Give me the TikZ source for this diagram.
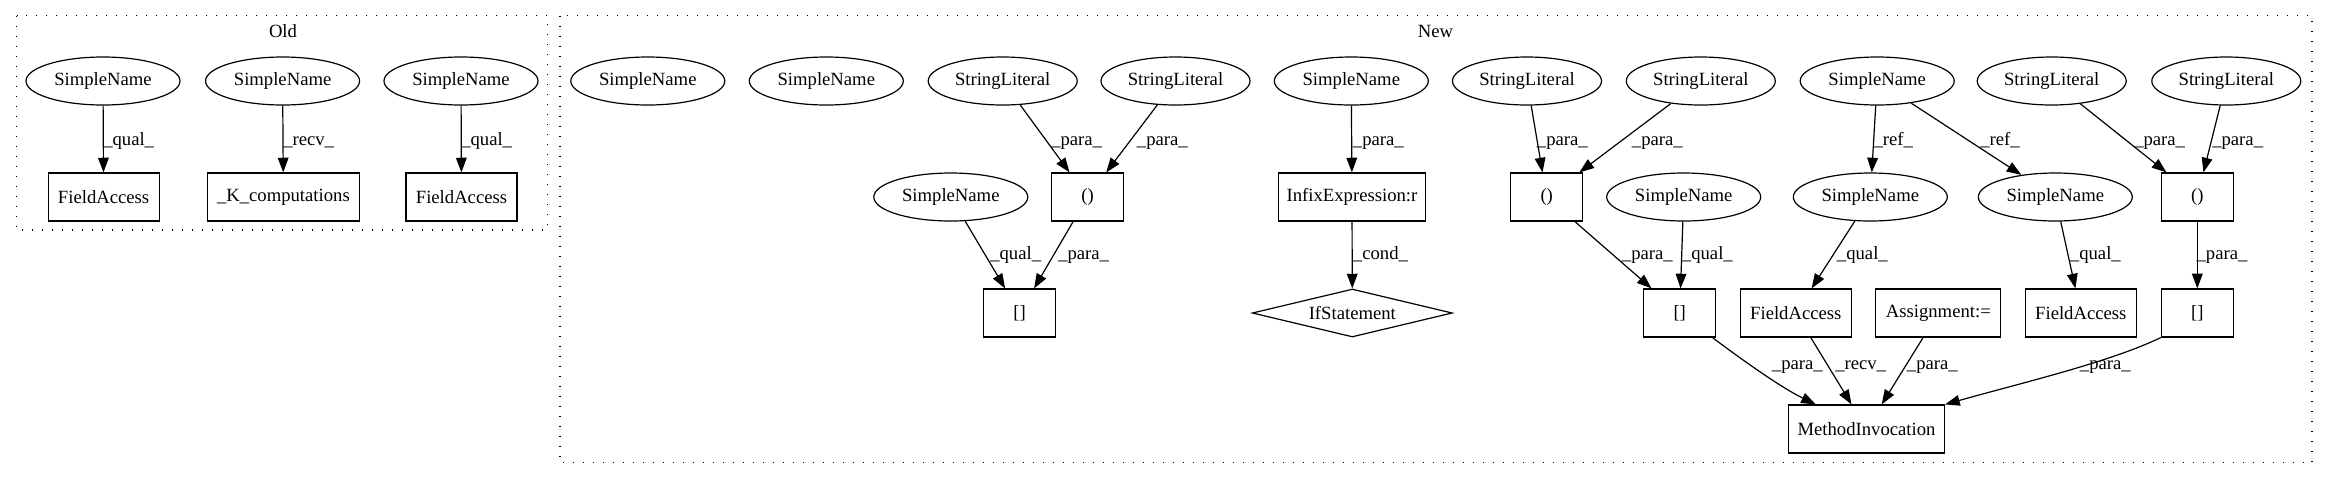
\documentclass[tikz,border=0pt]{standalone}
\usepackage{fontspec}
\setmainfont{Liberation Serif}
\usetikzlibrary{shapes.geometric,arrows.meta}
\begin{document}
\begin{tikzpicture}[x=0.75pt,y=-0.75pt,
  every node/.style={font=\fontsize{14pt}{16pt}\selectfont},
  ell/.style={draw,ellipse,line width=0.9pt,inner sep=0pt,minimum width=115.5pt,minimum height=36pt},
  sl/.style={ell,minimum width=111.75pt},
  box/.style={draw,rectangle,line width=0.9pt,inner sep=0pt,minimum height=36pt},
  dia/.style={draw,diamond,line width=0.9pt,inner sep=0pt,minimum width=150pt,minimum height=36pt,shape aspect=4.17},
  edge/.style={draw,line width=0.9pt,-{Triangle[length=11pt,width=8pt]}},
  lbl/.style={anchor=base west,inner sep=0pt},
  cluster/.style={draw,line width=0.9pt,dash pattern=on 0.9pt off 6.6pt},
]
\useasboundingbox (0,0) rectangle (2328,480);

% clusters
\draw[cluster] (16.6,15.5) rectangle (547.5,230);
\node (oldlbl) at (283,31) {Old};
\draw[cluster] (560,15.5) rectangle (2312,462.7);
\node (newlbl) at (1435.5,31) {New};

% Old
\node[ell] (os1) at (103,81) {SimpleName};
\node[ell] (os2) at (282.6,81) {SimpleName};
\node[ell] (os3) at (461,81) {SimpleName};
\node[box,minimum width=83.25pt] (ofa1) at (103.6,197) {FieldAccess};
\node[box,minimum width=114pt] (ok) at (283.4,197) {\_K\_computations};
\node[box,minimum width=83.25pt] (ofa3) at (461.5,197) {FieldAccess};
\draw[edge] (os1) -- (ofa1);
\draw[edge] (os2) -- (ok);
\draw[edge] (os3) -- (ofa3);
\node[lbl] (l1) at (103,145) {\_qual\_};
\node[lbl] (l2) at (283,145) {\_recv\_};
\node[lbl] (l3) at (461,145) {\_qual\_};

% New row 1
\node[ell] (nsn1) at (647.8,81) {SimpleName};
\node[ell] (nsn2) at (826.3,81) {SimpleName};
\node[sl] (sl3) at (1002.7,81) {StringLiteral};
\node[sl] (sl4) at (1175.5,81) {StringLiteral};
\node[ell] (sn4) at (1351.3,81) {SimpleName};
\node[sl] (sl5) at (1527,81) {StringLiteral};
\node[sl] (sl6) at (1700.8,81) {StringLiteral};
\node[ell] (sn7) at (1877.2,81) {SimpleName};
\node[sl] (sl8) at (2051.7,81) {StringLiteral};
\node[sl] (sl9) at (2226.3,81) {StringLiteral};

% New row 2
\node[ell] (snq1) at (950.8,197) {SimpleName};
\node[box,minimum width=54pt] (p1) at (1087.5,197) {()};
\node[box,minimum width=110.25pt] (infix) at (1352,197) {InfixExpression:r};
\node[box,minimum width=54pt] (p2) at (1546.7,197) {()};
\node[ell] (snq2) at (1683.7,197) {SimpleName};
\node[ell] (r1) at (1870.3,197) {SimpleName};
\node[ell] (r2) at (2055.3,197) {SimpleName};
\node[box,minimum width=54pt] (p3) at (2197.3,197) {()};

% New row 3
\node[box,minimum width=54pt] (b1) at (1019.7,313) {[]};
\node[dia] (ifs) at (1352.3,313) {IfStatement};
\node[box,minimum width=54pt] (b2) at (1679.7,313) {[]};
\node[box,minimum width=83.25pt] (fa1) at (1795.8,313) {FieldAccess};
\node[box,minimum width=93.75pt] (asg) at (1938.3,313) {Assignment:=};
\node[box,minimum width=83.25pt] (fa2) at (2080.8,313) {FieldAccess};
\node[box,minimum width=54pt] (b3) at (2197.3,313) {[]};

% New row 4
\node[box,minimum width=117pt] (mi) at (1866.5,429) {MethodInvocation};

% edges rank 1-2
\draw[edge] (sl3) -- (p1);
\draw[edge] (sl4) -- (p1);
\draw[edge] (sn4) -- (infix);
\draw[edge] (sl5) -- (p2);
\draw[edge] (sl6) -- (p2);
\draw[edge] (sn7) -- (r1);
\draw[edge] (sn7) -- (r2);
\draw[edge] (sl8) -- (p3);
\draw[edge] (sl9) -- (p3);
\node[lbl] (e1) at (1051,145) {\_para\_};
\node[lbl] (e2) at (1136.7,145) {\_para\_};
\node[lbl] (e3) at (1352.7,145) {\_para\_};
\node[lbl] (e4) at (1536.7,145) {\_para\_};
\node[lbl] (e5) at (1631.7,145) {\_para\_};
\node[lbl] (e6) at (1873.3,145) {\_ref\_};
\node[lbl] (e7) at (1980,145) {\_ref\_};
\node[lbl] (e8) at (2134,145) {\_para\_};
\node[lbl] (e9) at (2212,145) {\_para\_};

% edges rank 2-3
\draw[edge] (snq1) -- (b1);
\draw[edge] (p1) -- (b1);
\draw[edge] (infix) -- (ifs);
\draw[edge] (p2) -- (b2);
\draw[edge] (snq2) -- (b2);
\draw[edge] (r1) -- (fa1);
\draw[edge] (r2) -- (fa2);
\draw[edge] (p3) -- (b3);
\node[lbl] (f1) at (990,259) {\_qual\_};
\node[lbl] (f2) at (1058,259) {\_para\_};
\node[lbl] (f3) at (1352.7,259) {\_cond\_};
\node[lbl] (f4) at (1621.7,259) {\_para\_};
\node[lbl] (f5) at (1681.7,259) {\_qual\_};
\node[lbl] (f6) at (1836.7,259) {\_qual\_};
\node[lbl] (f7) at (2069.7,259) {\_qual\_};
\node[lbl] (f8) at (2196.3,259) {\_para\_};

% edges rank 3-4
\draw[edge] (b2) .. controls (1745,362) and (1782,388) .. (mi);
\draw[edge] (fa1) -- (mi);
\draw[edge] (asg) -- (mi);
\draw[edge] (b3.south west) .. controls (2110,362) and (2025,382) .. (mi.north east);
\node[lbl] (g1) at (1771.7,369) {\_para\_};
\node[lbl] (g2) at (1835,369) {\_recv\_};
\node[lbl] (g3) at (1906.7,369) {\_para\_};
\node[lbl] (g4) at (2079.7,369) {\_para\_};
\end{tikzpicture}
\end{document}
